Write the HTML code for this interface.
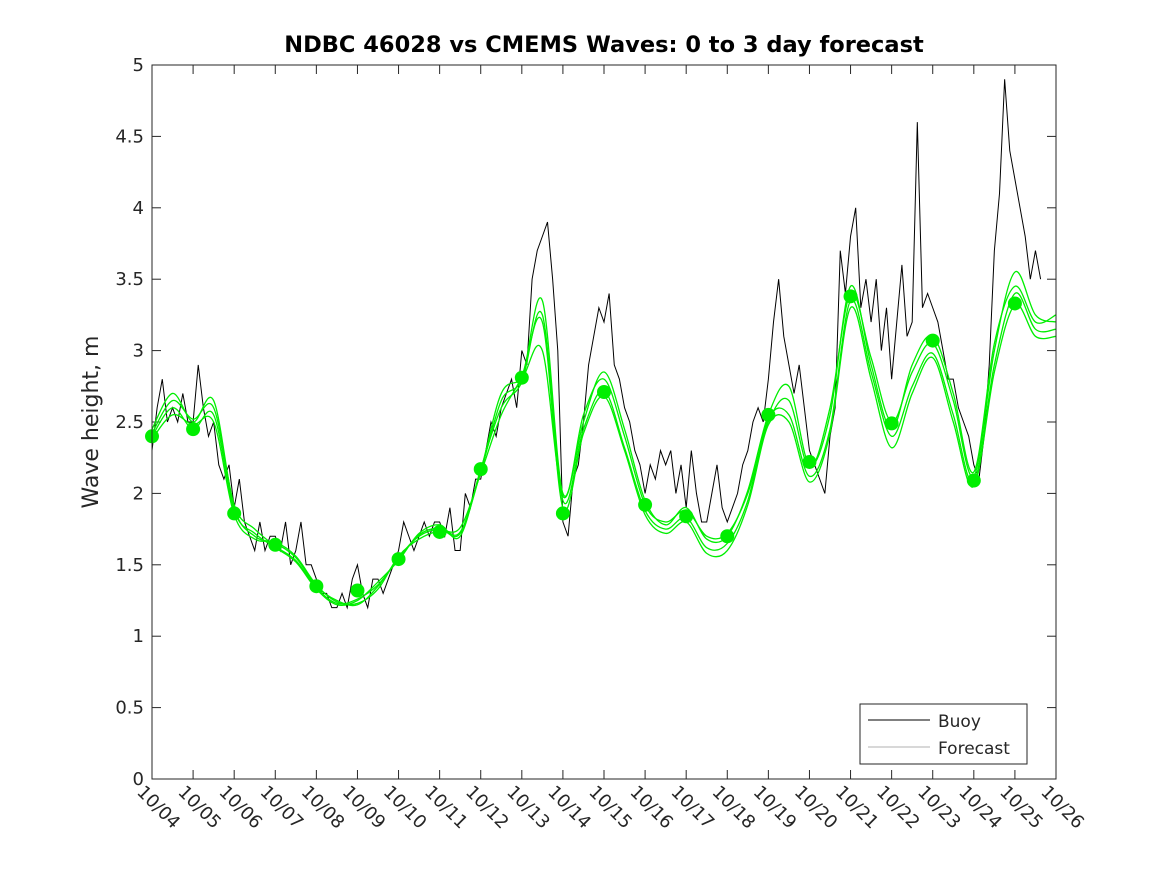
<!DOCTYPE html>
<html><head><meta charset="utf-8"><style>
body{margin:0;background:#fff;}
svg{display:block;font-family:"DejaVu Sans","Liberation Sans",sans-serif;}
</style></head><body>
<svg id="chart" width="1167" height="875">
<rect width="1167" height="875" fill="#fff"/>
<text x="604" y="52" text-anchor="middle" font-size="22.5" font-weight="bold">NDBC 46028 vs CMEMS Waves: 0 to 3 day forecast</text>
<text transform="translate(98,422) rotate(-90)" text-anchor="middle" font-size="22" fill="#262626">Wave height, m</text>
<g id="grid"></g>
<g id="series"></g>
<rect x="152" y="65" width="904" height="714" fill="none" stroke="#262626" stroke-width="1"/>
<g>
<rect x="860" y="704" width="167" height="60" fill="#fff" stroke="#262626"/>
<line x1="868" y1="720" x2="930" y2="720" stroke="#000"/>
<text x="938" y="727" font-size="17" fill="#262626">Buoy</text>
<line x1="868" y1="747" x2="930" y2="747" stroke="#999" stroke-width="0.8"/>
<text x="938" y="754" font-size="17" fill="#262626">Forecast</text>
</g>
</svg>
<script>
const xLabels=["10/04","10/05","10/06","10/07","10/08","10/09","10/10","10/11","10/12","10/13","10/14","10/15","10/16","10/17","10/18","10/19","10/20","10/21","10/22","10/23","10/24","10/25","10/26"];
const yTicks=[0,0.5,1,1.5,2,2.5,3,3.5,4,4.5,5];
const dotValues=[2.4,2.45,1.86,1.64,1.35,1.32,1.54,1.73,2.17,2.81,1.86,2.71,1.92,1.84,1.70,2.55,2.22,3.38,2.49,3.07,2.09,3.33];
const buoy=[2.3,2.6,2.8,2.5,2.6,2.5,2.7,2.5, 2.5,2.9,2.6,2.4,2.5,2.2,2.1,2.2, 1.9,2.1,1.8,1.7,1.6,1.8,1.6,1.7, 1.7,1.6,1.8,1.5,1.6,1.8,1.5,1.5, 1.4,1.3,1.3,1.2,1.2,1.3,1.2,1.4, 1.5,1.3,1.2,1.4,1.4,1.3,1.4,1.5, 1.6,1.8,1.7,1.6,1.7,1.8,1.7,1.8, 1.8,1.7,1.9,1.6,1.6,2.0,1.9,2.1, 2.1,2.3,2.5,2.4,2.6,2.7,2.8,2.6, 3.0,2.9,3.5,3.7,3.8,3.9,3.5,3.0, 1.8,1.7,2.1,2.2,2.5,2.9,3.1,3.3, 3.2,3.4,2.9,2.8,2.6,2.5,2.3,2.2, 2.0,2.2,2.1,2.3,2.2,2.3,2.0,2.2, 1.9,2.3,2.0,1.8,1.8,2.0,2.2,1.9, 1.8,1.9,2.0,2.2,2.3,2.5,2.6,2.5, 2.8,3.2,3.5,3.1,2.9,2.7,2.9,2.6, 2.3,2.2,2.1,2.0,2.4,2.6,3.7,3.4, 3.8,4.0,3.3,3.5,3.2,3.5,3.0,3.3, 2.8,3.2,3.6,3.1,3.2,4.6,3.3,3.4, 3.3,3.2,3.0,2.8,2.8,2.6,2.5,2.4, 2.2,2.1,2.4,2.9,3.7,4.1,4.9,4.4, 4.2,4.0,3.8,3.5,3.7,3.5];
const fc1=[2.45,2.7,2.5,2.65,1.9,1.7,1.65,1.55,1.35,1.25,1.22,1.35,1.55,1.7,1.75,1.72,2.15,2.65,2.8,3.35,2.0,2.55,2.8,2.4,1.92,1.8,1.88,1.7,1.72,2.0,2.5,2.65,2.18,2.6,3.4,2.95,2.5,2.85,3.05,2.65,2.12,3.0,3.55,3.25,3.2];
const fc2=[2.4,2.6,2.45,2.55,1.88,1.72,1.62,1.52,1.33,1.22,1.25,1.38,1.53,1.72,1.78,1.7,2.17,2.6,2.78,3.25,1.95,2.45,2.72,2.32,1.88,1.75,1.83,1.62,1.65,1.95,2.52,2.55,2.12,2.45,3.35,2.85,2.4,2.75,2.98,2.55,2.08,2.9,3.4,3.15,3.15];
const fc3=[2.38,2.55,2.48,2.5,1.85,1.68,1.66,1.56,1.36,1.24,1.23,1.33,1.56,1.68,1.74,1.76,2.14,2.55,2.82,3.2,1.9,2.42,2.68,2.3,1.85,1.72,1.8,1.58,1.6,1.92,2.48,2.5,2.08,2.42,3.3,2.8,2.32,2.7,2.95,2.5,2.05,2.85,3.32,3.1,3.1];
const fc4=[2.42,2.65,2.52,2.6,1.92,1.75,1.63,1.53,1.34,1.23,1.26,1.36,1.54,1.71,1.76,1.73,2.16,2.7,2.8,3.0,1.98,2.5,2.85,2.45,1.95,1.78,1.9,1.68,1.7,2.02,2.55,2.75,2.2,2.55,3.45,2.9,2.45,2.9,3.1,2.7,2.15,3.05,3.45,3.2,3.25];
const NS="http://www.w3.org/2000/svg";
const X0=152,X1=1056,Y0=779,Y1=65;
const xs=d=>X0+(X1-X0)*d/22;
const ys=v=>Y0-(Y0-Y1)*v/5;
const grid=document.getElementById('grid'),ser=document.getElementById('series');
function mk(tag,attrs,parent){const e=document.createElementNS(NS,tag);for(const k in attrs)e.setAttribute(k,attrs[k]);parent.appendChild(e);return e;}
function smooth(pts){let d='M'+pts[0][0]+','+pts[0][1];for(let i=0;i<pts.length-1;i++){const p0=pts[Math.max(0,i-1)],p1=pts[i],p2=pts[i+1],p3=pts[Math.min(pts.length-1,i+2)];const c1=[p1[0]+(p2[0]-p0[0])/6,p1[1]+(p2[1]-p0[1])/6],c2=[p2[0]-(p3[0]-p1[0])/6,p2[1]-(p3[1]-p1[1])/6];d+=` C${c1[0]},${c1[1]} ${c2[0]},${c2[1]} ${p2[0]},${p2[1]}`;}return d;}
yTicks.forEach(v=>{
 const y=ys(v);
 const t=mk('line',{x1:X0,x2:X0+9,y1:y,y2:y,stroke:'#262626'},grid);
 
 
 const t2=mk('line',{x1:X1-9,x2:X1,y1:y,y2:y,stroke:'#262626'},grid);
 
 
 const l=mk('text',{x:X0-8,y:y+6,'text-anchor':'end','font-size':18,fill:'#262626'},grid);
 l.textContent=String(v);
 
 
});
xLabels.forEach((s,i)=>{
 const x=xs(i);
 const t=mk('line',{x1:x,x2:x,y1:Y0,y2:Y0-9,stroke:'#262626'},grid);
 
 
 const t2=mk('line',{x1:x,x2:x,y1:Y1,y2:Y1+9,stroke:'#262626'},grid);
 
 
 const l=mk('text',{transform:`translate(${x-16},${Y0+14}) rotate(45)`,'font-size':18,fill:'#262626'},grid);
 l.textContent=s;
 
 
});
const bp=mk('polyline',{points:buoy.map((v,i)=>xs(i/8)+','+ys(v)).join(' '),fill:'none',stroke:'#000','stroke-width':1},ser);


[fc1,fc2,fc3,fc4].forEach(f=>{
 const p=mk('path',{d:smooth(f.map((v,i)=>[xs(i/2),ys(v)])),fill:'none',stroke:'#00ee00','stroke-width':1.3},ser);
 
 
});
dotValues.forEach((v,i)=>{
 const c=mk('circle',{cx:xs(i),cy:ys(v),r:7,fill:'#00ee00'},ser);
 
 
});
</script>
</body></html>
